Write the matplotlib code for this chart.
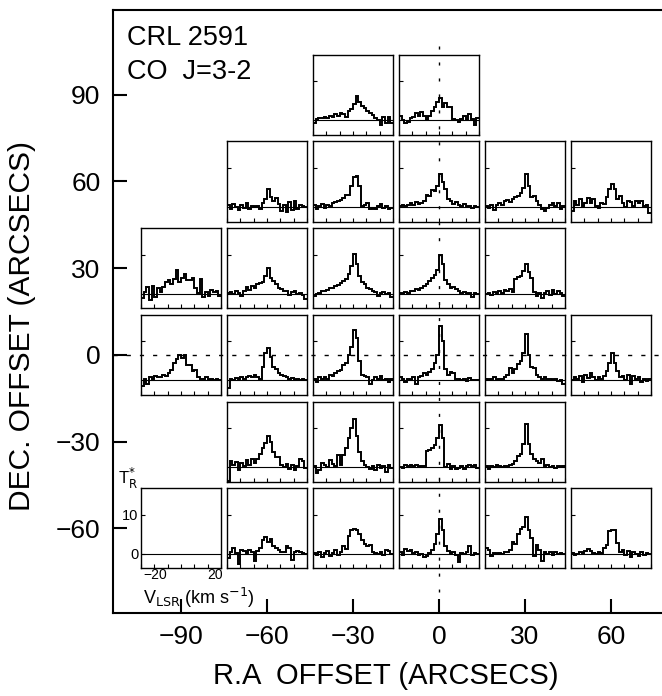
import matplotlib.pyplot as plt
import numpy as np

plt.rcParams['font.family'] = ['Liberation Sans', 'DejaVu Sans']

# velocity channels of every spectrum (km/s), 2 km/s wide
v_edges = np.linspace(-30, 30, 31)

# map offsets in arcsec
ra_ticks = [-90, -60, -30, 0, 30, 60]
dec_ticks = [-60, -30, 0, 30, 60, 90]

# T_R* (K) per channel, named by (ra, dec) offset
t_m30_p90 = [-0.8, 0.3, 0.5, 0.6, 0.8, 0.5, 1.2, 0.9, 1.5, 1.2, 2.0, 1.6, 0.8, 2.5, 3.0,
             4.3, 6.2, 4.8, 3.8, 3.2, 2.5, 2.0, 1.4, 0.6, 0.0, -1.2, 0.8, -0.6, 0.9, -0.8]
t_0_p90 = [1.0, 0.2, -0.8, -0.5, 0.5, 0.8, 1.8, 1.2, 2.2, 1.0, 0.0, 1.0, 2.5, 3.5, 4.8,
           5.6, 3.5, 4.5, 3.5, 3.3, 0.3, 0.0, -0.4, 0.4, 1.2, 0.2, 1.5, 0.3, -1.3, 0.5]

t_m60_p60 = [0.5, -0.5, 0.8, 0.0, -0.8, 0.5, -0.3, 1.0, -0.5, 0.2, 0.0, 0.3, -0.4, 1.0, 2.0,
             4.7, 2.5, 1.5, 2.3, 0.8, -1.0, 0.5, -1.2, 1.2, -0.8, 1.5, -0.5, 0.5, 0.2, 0.0]
t_m30_p60 = [0.5, -0.5, 0.3, 0.8, -0.3, 0.5, 0.3, 1.0, 1.2, 1.5, 1.8, 2.2, 3.0, 3.2, 5.5,
             7.8, 8.0, 5.5, 0.2, 0.5, 1.0, -0.5, -0.3, -0.6, 0.2, 0.8, -0.2, 0.3, -0.5, -0.2]
t_0_p60 = [0.2, 0.5, 0.3, 0.6, 1.0, 0.6, 1.2, 0.8, 1.0, 1.5, 3.0, 2.8, 4.3, 4.0, 5.5,
           8.5, 6.5, 4.5, 2.0, 1.6, 0.8, 1.2, 0.5, 0.2, 0.8, 0.0, 0.3, -0.2, 0.2, 0.0]
t_p30_p60 = [0.3, -0.3, 0.5, -0.8, 0.6, 1.0, 0.5, 1.5, 1.8, 1.2, 2.0, 2.5, 2.8, 3.5, 5.0,
             8.5, 5.5, 2.5, 2.8, 1.5, 0.5, -0.5, -1.0, -0.3, 0.5, 1.0, 0.2, 1.0, -0.5, 0.3]
t_p60_p60 = [-1.0, 1.5, 0.5, 2.0, 0.2, 1.0, 2.2, 1.0, 2.0, 0.2, -0.2, 1.0, 0.8, 2.5, 4.5,
             5.9, 4.5, 2.0, 2.8, 1.0, 0.0, 1.5, 1.2, 0.3, 1.5, 1.0, 1.5, 0.2, 0.5, -1.5]

t_m90_p30 = [-1.2, 0.5, 1.8, -1.5, 2.0, -0.8, 1.5, 0.5, 1.8, 3.0, 3.5, 2.5, 3.8, 6.0, 3.0,
             4.0, 5.0, 3.5, 3.5, 4.0, 1.5, 0.2, 3.8, -0.8, 0.5, -0.5, 1.0, 0.5, 0.8, -0.5]
t_m60_p30 = [0.3, 0.5, 0.0, 0.6, 0.3, -0.5, 0.8, 1.8, 1.0, 2.0, 1.5, 2.5, 2.8, 3.0, 4.5,
             6.7, 4.0, 3.2, 2.5, 1.6, 1.2, 0.8, 0.6, -0.3, 0.5, 0.8, 0.0, 0.3, -0.2, -1.3]
t_m30_p30 = [-0.5, 0.0, 0.3, 0.6, 0.8, 1.0, 1.4, 1.5, 2.0, 2.2, 2.8, 3.2, 3.8, 5.0, 7.0,
             10.3, 7.5, 4.5, 3.0, 2.5, 1.5, 1.3, 0.6, 0.4, -0.6, 0.2, 0.5, 0.0, 0.3, -0.8]
t_0_p30 = [0.3, 0.0, 0.5, 0.3, 0.8, 0.6, 1.2, 1.0, 1.6, 2.0, 2.5, 3.2, 4.0, 4.8, 6.0,
           10.0, 7.5, 3.5, 2.5, 1.5, 1.8, 1.2, 0.8, 0.3, 0.5, 0.0, 0.2, -0.8, 0.3, 0.0]
t_p30_p30 = [0.0, 0.3, -0.3, 0.5, 0.2, 0.6, 0.3, 1.0, 0.8, 1.2, 0.5, 3.8, 4.3, 4.5, 5.8,
             7.6, 5.5, 4.0, 0.5, -0.5, 0.2, -1.0, 0.3, 0.8, -0.3, 1.0, 0.0, 0.8, 0.2, -0.5]

t_m90_0 = [-1.5, 0.5, -0.8, 1.0, 0.5, 1.2, 0.8, 1.0, 1.5, 1.2, 2.0, 2.8, 4.5, 5.5, 6.5,
           5.8, 6.5, 4.0, 4.0, 2.5, 2.8, 1.0, 0.5, 0.3, 0.8, 0.0, 0.5, 0.2, 0.3, 0.0]
t_m60_0 = [-1.8, 0.5, 0.2, 0.6, 0.3, 0.8, 0.5, 1.0, 1.2, 0.8, 1.3, 1.0, 0.5, 3.5, 7.0,
           8.3, 6.0, 3.5, 3.0, 2.0, 1.5, 1.2, 0.8, 0.5, 0.6, 0.2, 0.5, 0.0, 0.3, 0.0]
t_m30_0 = [0.5, -0.5, 1.0, 0.3, 0.8, 0.5, 1.5, 1.2, 1.8, 2.5, 2.7, 4.0, 4.5, 6.5, 8.5,
           13.0, 11.0, 5.0, 1.5, 1.2, 0.8, -0.8, 0.2, 1.0, 0.5, 1.2, 0.0, 0.5, -0.3, 0.3]
t_0_0 = [1.0, 0.3, -0.5, 0.5, 0.0, 0.8, -1.0, 0.8, 1.2, 1.8, 1.5, 2.2, 3.0, 4.5, 6.5,
         14.0, 10.0, 3.0, 1.5, 2.2, 1.8, 0.5, 0.3, 0.0, 0.5, -0.2, 0.6, 0.0, 0.2, 0.0]
t_p30_0 = [0.5, 0.0, 0.3, 0.8, 0.2, 0.5, 0.3, 1.0, 1.5, 3.2, 1.8, 3.0, 4.2, 5.0, 7.0,
           11.8, 6.5, 3.5, 3.2, 1.5, 0.8, 0.5, 1.0, 0.3, 0.5, 0.0, 0.3, -0.2, 0.0, -0.8]
t_p60_0 = [0.0, 0.8, 0.3, 1.2, -0.3, 1.5, 0.6, 2.0, 1.0, 0.2, 1.0, 0.5, 1.2, 2.5, 4.5,
           7.0, 4.5, 2.5, 0.8, 1.2, 0.0, 1.5, -0.8, 1.2, 0.3, 0.8, -0.5, 0.5, -0.2, 0.3]

t_m60_m30 = [-3.5, 1.5, 0.5, 1.2, -0.8, 1.0, 0.3, 1.8, 0.5, 2.0, 1.0, 2.2, 3.5, 5.0, 6.2,
             8.0, 6.5, 4.0, 2.5, 2.5, 0.5, 0.0, 0.8, -0.5, 0.5, -0.8, 0.2, 2.0, 1.5, -0.3]
t_m30_m30 = [0.3, -1.5, -0.8, 1.0, 0.5, 0.0, 1.8, 0.8, 0.2, 3.2, 0.6, 3.0, 5.0, 7.5, 10.0,
             12.3, 8.0, 4.0, 1.5, 0.5, 0.0, -0.5, 0.3, -0.6, 0.5, -0.2, 0.4, -1.2, 0.5, -0.3]
t_0_m30 = [0.0, -0.3, 0.5, 0.2, 0.6, 0.3, 0.5, 0.1, 0.4, 0.2, 4.2, 4.5, 4.8, 5.8, 7.5,
           10.8, 7.5, 0.0, 0.8, -0.5, 0.3, -0.4, -0.2, 0.3, -0.5, 0.4, 0.6, 0.2, 0.5, -0.3]
t_p30_m30 = [0.3, -0.5, 0.2, 0.0, 0.5, 0.3, 0.0, 0.4, 0.2, 0.6, 0.8, 1.5, 2.8, 3.5, 6.0,
             11.0, 6.0, 3.5, 2.0, 1.5, 1.0, 2.0, 0.3, 0.5, 0.0, 0.3, -0.2, 0.4, 0.0, 0.2]

t_m60_m60 = [-1.0, 0.5, 1.5, 0.3, -2.5, 1.0, 0.8, 0.2, 1.0, 0.5, -1.8, 0.8, 1.5, 3.5, 4.2,
             3.0, 3.8, 2.0, 1.5, 1.0, 0.5, 0.5, 2.0, 1.5, -1.5, 0.5, 0.8, 0.6, 0.2, 0.0]
t_m30_m60 = [0.3, -0.2, 0.5, -0.8, 0.3, 0.8, -0.5, 0.3, 1.0, -0.3, 0.5, 2.0, 1.2, 4.5, 6.0,
             6.3, 6.0, 5.0, 3.5, 2.5, 2.0, 2.2, 0.5, 0.2, 0.0, 0.5, -0.3, 1.0, 0.8, 0.0]
t_0_m60 = [0.5, -0.3, 1.2, 0.8, 1.0, 0.2, 0.5, -0.3, 0.0, -0.8, -0.5, 0.3, 1.0, 2.5, 5.0,
           9.0, 6.0, 2.0, 0.8, 0.3, 0.5, -0.3, -2.0, 0.3, 0.0, 0.5, 2.0, -0.2, 0.3, 0.0]
t_p30_m60 = [1.5, 1.0, -0.5, 0.2, 0.0, 0.3, 0.1, 0.5, 0.4, 1.0, 3.0, 2.5, 5.0, 6.5, 7.0,
             9.4, 6.0, 4.0, -0.5, 2.2, 1.0, -1.8, 0.5, 0.0, 0.5, -0.3, 0.4, 0.0, 0.3, 0.0]
t_p60_m60 = [0.3, -0.3, 0.0, 0.5, 0.3, 0.8, 1.2, 0.8, 0.3, 0.0, 0.5, 0.2, 1.5, 2.2, 5.8,
             6.2, 6.0, 2.8, 0.5, 1.0, -0.3, 0.8, -0.8, 0.5, 0.0, -0.5, 0.6, -0.3, 0.3, 0.0]

panels = [
    (-30, 90, t_m30_p90), (0, 90, t_0_p90),
    (-60, 60, t_m60_p60), (-30, 60, t_m30_p60), (0, 60, t_0_p60),
    (30, 60, t_p30_p60), (60, 60, t_p60_p60),
    (-90, 30, t_m90_p30), (-60, 30, t_m60_p30), (-30, 30, t_m30_p30),
    (0, 30, t_0_p30), (30, 30, t_p30_p30),
    (-90, 0, t_m90_0), (-60, 0, t_m60_0), (-30, 0, t_m30_0),
    (0, 0, t_0_0), (30, 0, t_p30_0), (60, 0, t_p60_0),
    (-60, -30, t_m60_m30), (-30, -30, t_m30_m30), (0, -30, t_0_m30), (30, -30, t_p30_m30),
    (-60, -60, t_m60_m60), (-30, -60, t_m30_m60), (0, -60, t_0_m60),
    (30, -60, t_p30_m60), (60, -60, t_p60_m60),
]
legend_pos = (-90, -60)

W, H = 662, 696
fig = plt.figure(figsize=(W / 100, H / 100), dpi=100)
ax = fig.add_axes([113 / W, 83 / H, 549 / W, 603.5 / H])
ax.set_xlim(-113.7, 77.8)
ax.set_ylim(-89.3, 119.5)
ax.spines['right'].set_visible(False)
for s in ('left', 'top', 'bottom'):
    ax.spines[s].set_linewidth(1.5)
ax.set_xticks(ra_ticks)
ax.set_yticks(dec_ticks)
ax.tick_params(direction='in', length=10, width=1.5, labelsize=19)
ax.tick_params(axis='y', pad=9)
ax.tick_params(axis='x', pad=9)

# reference lines through the source position
ax.axhline(0, color='black', lw=1.0, dashes=(3, 6.5), zorder=0)
ax.plot([0, 0], [107, -82], color='black', lw=1.0, dashes=(2.2, 9.3), zorder=0)

pw, ph = 27.9, 27.7
t_lim = (-3.7, 16.8)


def make_panel(ra, dec):
    p = ax.inset_axes([ra - pw / 2, dec - ph / 2, pw, ph], transform=ax.transData)
    p.patch.set_alpha(0)
    p.set_xlim(v_edges[0], v_edges[-1])
    p.set_ylim(*t_lim)
    for s in p.spines.values():
        s.set_linewidth(1.0)
    p.set_xticks(np.arange(-30, 31, 10))
    p.set_yticks([10])
    p.tick_params(direction='in', length=3, width=0.8, labelbottom=False, labelleft=False)
    p.axhline(0, color='black', lw=0.8)
    return p


for ra, dec, t in panels:
    p = make_panel(ra, dec)
    p.stairs(t, v_edges, color='black', lw=1.4, baseline=None)

# empty box showing the scales
lg = make_panel(*legend_pos)
lg.set_yticks([0, 10])
lg.tick_params(axis='y', labelleft=True, labelsize=10.5, pad=2)
lg.text(0.18, -0.085, '−20', transform=lg.transAxes, ha='center', va='center', fontsize=10)
lg.text(0.93, -0.085, '20', transform=lg.transAxes, ha='center', va='center', fontsize=10)
lg.text(0.02, -0.215, r'V$_{\rm LSR}$ (km s$^{-1}$)', transform=lg.transAxes,
        ha='left', va='top', fontsize=13)
lg.text(-0.29, 1.12, r'T$_{\rm R}^{*}$', transform=lg.transAxes,
        ha='left', va='center', fontsize=12)

fig.text(127 / W, 1 - 45 / H, 'CRL 2591', fontsize=19.5, va='baseline', ha='left')
fig.text(127 / W, 1 - 79 / H, 'CO  J=3-2', fontsize=19.5, va='baseline', ha='left')
fig.text(22.5 / W, 1 - 326 / H, 'DEC. OFFSET (ARCSECS)', rotation=90,
         fontsize=21.5, ha='center', va='center')
fig.text(386 / W, 1 - 676 / H, 'R.A  OFFSET (ARCSECS)',
         fontsize=21, ha='center', va='center')

fig.savefig('out.png', dpi=100, facecolor='white')
